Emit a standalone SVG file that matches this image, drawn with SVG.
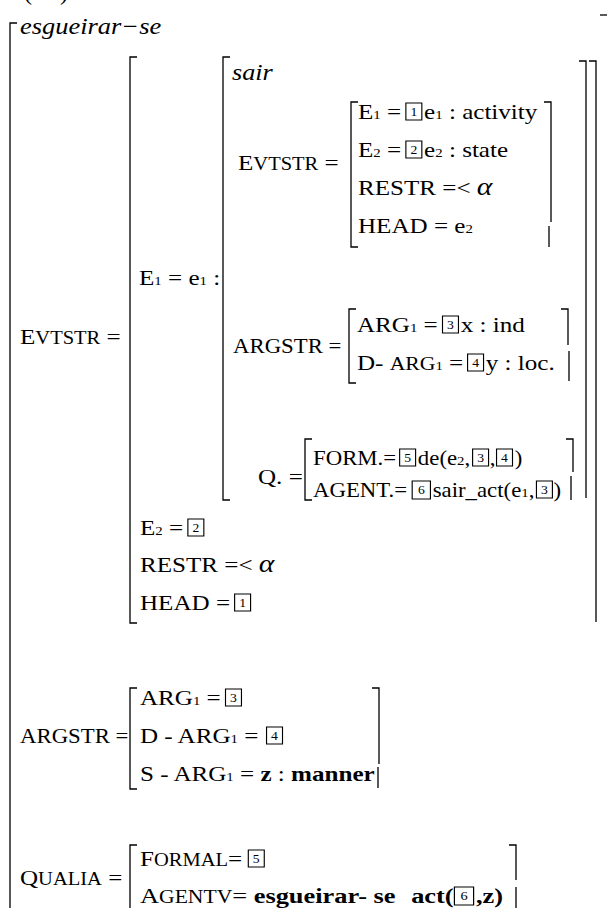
<svg xmlns="http://www.w3.org/2000/svg" width="607" height="908" viewBox="0 0 607 908">
<style>
text{font-family:"Liberation Serif","Times New Roman",serif;font-size:22px;fill:#000}
.sub{font-size:13px}
.sc{font-size:18px}
.it{font-style:italic}
.b{font-weight:bold}
.sm{font-size:20px}
.lab{font-size:20px}
.al{font-style:italic;font-size:26px}
.n{font-size:12px;text-anchor:middle}
.br{fill:none;stroke:#000;stroke-width:1.3}
.bx{fill:none;stroke:#000;stroke-width:1}
</style>
<defs>
  <!-- numbered tag boxes -->
  <g id="b1"><rect class="bx" x="0" y="-16" width="14" height="17"/><text class="n" x="7" y="-3">1</text></g>
  <g id="b2"><rect class="bx" x="0" y="-16" width="14" height="17"/><text class="n" x="7" y="-3">2</text></g>
  <g id="b3"><rect class="bx" x="0" y="-16" width="14" height="17"/><text class="n" x="7" y="-3">3</text></g>
  <g id="b4"><rect class="bx" x="0" y="-16" width="14" height="17"/><text class="n" x="7" y="-3">4</text></g>
  <g id="b5"><rect class="bx" x="0" y="-16" width="14" height="17"/><text class="n" x="7" y="-3">5</text></g>
  <g id="b6"><rect class="bx" x="0" y="-16" width="16" height="18"/><text class="n" x="8" y="-3">6</text></g>
</defs>

<!-- example number, clipped by the top edge -->
<g id="title"><text x="24 60" y="0" style="font-size:24px">()</text></g>

<!-- outer matrix -->
<g id="outer">
  <path class="br" d="M17,23 H10 V908"/>
  <path class="br" d="M600,15 H607"/>
  <g transform="translate(20,34) scale(1.15,1)"><text class="it" style="font-size:23px">esgueirar−se</text></g>
</g>

<!-- EVTSTR of the whole entry -->
<g id="evtstr">
  <g transform="translate(20,344) scale(1.14,1)"><text>E<tspan class="sc">VTSTR</tspan> =</text></g>
  <path class="br" d="M137,57 H130 V623 H137"/>
  <path class="br" d="M589,61 H596 V622"/>
  <g transform="translate(139,285) scale(1.14,1)"><text>E<tspan class="sub">1</tspan> = e<tspan class="sub">1</tspan> :</text></g>
  <g transform="translate(140,535) scale(1.14,1)"><text>E<tspan class="sub">2</tspan> =</text><use href="#b2" x="42"/></g>
  <g transform="translate(140,572) scale(1.14,1)"><text>RESTR =&lt; <tspan class="al">α</tspan></text></g>
  <g transform="translate(140,610) scale(1.14,1)"><text>HEAD =</text><use href="#b1" x="83"/></g>
</g>

<!-- embedded structure for "sair" -->
<g id="sair">
  <path class="br" d="M230,57 H223 V500 H230"/>
  <path class="br" d="M579,61 H586 V498"/>
  <g transform="translate(232,80) scale(1.14,1)"><text class="it" style="font-size:23px">sair</text></g>
</g>

<g id="sair-evtstr">
  <g transform="translate(238,170) scale(1.14,1)"><text>E<tspan class="sc">VTSTR</tspan> =</text></g>
  <path class="br" d="M358,102 H351 V247 H358"/>
  <path class="br" d="M544,102 H551 V222 M549,226 V247"/>
  <g transform="translate(358,119) scale(1.14,1)"><text>E<tspan class="sub">1</tspan> =</text><use href="#b1" x="42"/><text x="58">e<tspan class="sub">1</tspan> : activity</text></g>
  <g transform="translate(358,157) scale(1.14,1)"><text>E<tspan class="sub">2</tspan> =</text><use href="#b2" x="42"/><text x="58">e<tspan class="sub">2</tspan> : state</text></g>
  <g transform="translate(358,195) scale(1.14,1)"><text>RESTR =&lt; <tspan class="al">α</tspan></text></g>
  <g transform="translate(358,233) scale(1.14,1)"><text>HEAD = e<tspan class="sub">2</tspan></text></g>
</g>

<g id="sair-argstr">
  <g transform="translate(233,353) scale(1.14,1)"><text class="lab">ARGSTR =</text></g>
  <path class="br" d="M356,309 H349 V383 H356"/>
  <path class="br" d="M561,309 H568 V345 M569,351 V381"/>
  <g transform="translate(357,332) scale(1.14,1)"><text>ARG<tspan class="sub">1</tspan> =</text><use href="#b3" x="75"/><text x="91">x : ind</text></g>
  <g transform="translate(357,370) scale(1.14,1)"><text>D- <tspan style="font-size:19px">ARG</tspan><tspan class="sub">1</tspan> =</text><use href="#b4" x="97"/><text x="113">y : loc.</text></g>
</g>

<g id="sair-qualia">
  <g transform="translate(258,484) scale(1.14,1)"><text>Q. =</text></g>
  <path class="br" d="M312,439 H305 V500 H312"/>
  <path class="br" d="M566,439 H573 V472 M571,476 V500"/>
  <g transform="translate(313,465) scale(1.14,1)">
    <text class="sm">FORM.=</text><use href="#b5" x="76"/>
    <text class="sm" x="92">de(e<tspan class="sub">2</tspan>,</text><use href="#b3" x="140"/>
    <text class="sm" x="155">,</text><use href="#b4" x="161"/><text class="sm" x="177">)</text>
  </g>
  <g transform="translate(313,497) scale(1.14,1)">
    <text class="sm">AGENT.=</text><use href="#b6" x="87"/>
    <text class="sm" x="105">sair_act(e<tspan class="sub">1</tspan>,</text><use href="#b3" x="196"/><text class="sm" x="211">)</text>
  </g>
</g>

<!-- ARGSTR of the whole entry -->
<g id="argstr">
  <g transform="translate(20,743) scale(1.14,1)"><text class="lab">ARGSTR =</text></g>
  <path class="br" d="M137,688 H130 V789 H137"/>
  <path class="br" d="M372,688 H379 V764 M378,767 V788"/>
  <g transform="translate(140,705) scale(1.14,1)"><text>ARG<tspan class="sub">1</tspan> =</text><use href="#b3" x="75"/></g>
  <g transform="translate(140,743) scale(1.14,1)"><text>D - ARG<tspan class="sub">1</tspan> =</text><use href="#b4" x="111"/></g>
  <g transform="translate(140,781) scale(1.14,1)"><text>S - ARG<tspan class="sub">1</tspan> = <tspan class="b">z</tspan> : <tspan class="b">manner</tspan></text></g>
</g>

<!-- QUALIA of the whole entry -->
<g id="qualia">
  <g transform="translate(20,885) scale(1.14,1)"><text>Q<tspan class="sc">UALIA</tspan> =</text></g>
  <path class="br" d="M137,845 H130 V910"/>
  <path class="br" d="M509,845 H516 V880 M516,887 V908"/>
  <g transform="translate(140,866) scale(1.14,1)"><text>F<tspan class="sc">ORMAL</tspan>=</text><use href="#b5" x="95"/></g>
  <g transform="translate(140,903) scale(1.2,1)"><text>A<tspan class="sc">GENTV</tspan>= <tspan class="b">esgueirar- se</tspan><tspan class="b" dx="13">act(</tspan></text><use href="#b6" x="262"/><text class="b" x="280">,z)</text></g>
</g>
</svg>
